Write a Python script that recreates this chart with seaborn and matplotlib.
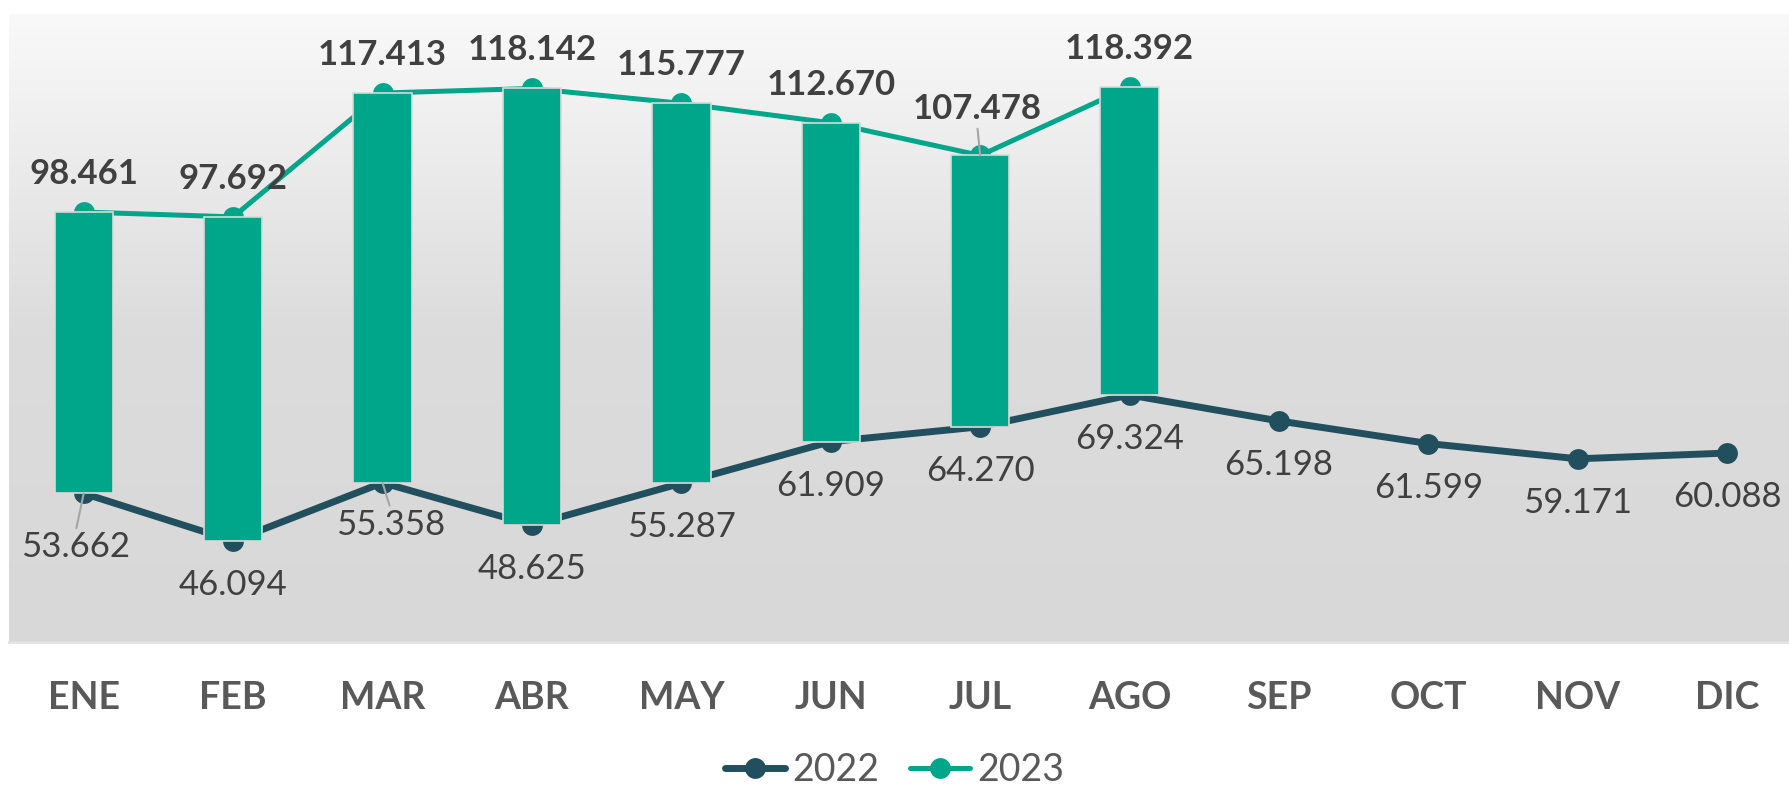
import matplotlib
matplotlib.use("Agg")
import matplotlib.pyplot as plt
from matplotlib.colors import LinearSegmentedColormap
import seaborn as sns
import numpy as np
import pandas as pd

# data (thousands, shown with "." as separator)
months = ['ENE', 'FEB', 'MAR', 'ABR', 'MAY', 'JUN', 'JUL', 'AGO', 'SEP', 'OCT', 'NOV', 'DIC']
v2022 = [53662, 46094, 55358, 48625, 55287, 61909, 64270, 69324, 65198, 61599, 59171, 60088]
v2023 = [98461, 97692, 117413, 118142, 115777, 112670, 107478, 118392]

C22 = '#214f5e'
C23 = '#00a68a'
TXT = '#404040'

sns.set_style("white")
plt.rcParams['font.family'] = ['Lato', 'DejaVu Sans']

fig = plt.figure(figsize=(17.89, 7.9), dpi=100)
ax = fig.add_axes([9 / 1789, 1 - 642 / 790, 1793 / 1789, 628 / 790])

# plot area gradient
grad = np.linspace(0, 1, 256).reshape(-1, 1)
cmap = LinearSegmentedColormap.from_list('bg', ['#d8d8d8', '#dcdcdc', '#f9f9f9'])
ax.imshow(grad, extent=[0, 1, 0, 1], transform=ax.transAxes, aspect='auto',
          cmap=cmap, origin='lower', zorder=0)

df = pd.DataFrame({'x': np.arange(len(months)), 'mes': months, 'v': v2022, 'serie': '2022'})
df23 = pd.DataFrame({'x': np.arange(len(v2023)), 'mes': months[:len(v2023)], 'v': v2023, 'serie': '2023'})
data = pd.concat([df, df23], ignore_index=True)

sns.lineplot(data=data, x='x', y='v', hue='serie', palette={'2022': C22, '2023': C23},
             marker='o', markersize=15, markeredgewidth=0, ax=ax, zorder=2, legend=False)
for line, lw in zip(ax.lines, [5.0, 3.6]):
    line.set_linewidth(lw)

# up-down bars
n = len(v2023)
low = np.array(v2022[:n])
high = np.array(v2023)
ax.bar(np.arange(n), high - low, bottom=low, width=0.39, color=C23,
       edgecolor='#d9d9d9', linewidth=1.2, zorder=3)

def fmt(v):
    return f"{v:,}".replace(",", ".")

# data labels
lead22 = {0: (-8, -54), 2: (8, -42)}
for i, v in enumerate(v2022):
    dx, dy = lead22.get(i, (0, -44))
    arrow = dict(arrowstyle='-', color='#a6a6a6', lw=1.5, shrinkA=0, shrinkB=0,
                 relpos=(0.5, 1.0)) if i in lead22 else None
    ax.annotate(fmt(v), (i, v), xytext=(dx, dy), textcoords='offset pixels',
                ha='center', va='center', fontsize=25, color=TXT, zorder=5,
                arrowprops=arrow)
lead23 = {6: (-3, 46)}
for i, v in enumerate(v2023):
    dx, dy = lead23.get(i, (0, 38))
    arrow = dict(arrowstyle='-', color='#a6a6a6', lw=1.5, shrinkA=0, shrinkB=0,
                 relpos=(0.5, 0.0)) if i in lead23 else None
    ax.annotate(fmt(v), (i, v), xytext=(dx, dy), textcoords='offset pixels',
                ha='center', va='center', fontsize=25, fontweight='bold', color=TXT,
                zorder=5, arrowprops=arrow)

ax.set_xlim(-0.5, len(months) - 0.5)
ax.set_ylim(30000, 130000)
ax.set_xticks(np.arange(len(months)))
ax.set_xticklabels(months, fontsize=27, fontweight='bold', color='#595959')
ax.set_yticks([])
ax.tick_params(axis='x', length=0, pad=28)
ax.set_xlabel('')
ax.set_ylabel('')
for s in ['top', 'left', 'right']:
    ax.spines[s].set_visible(False)
ax.spines['bottom'].set_color('#e3e3e3')
ax.spines['bottom'].set_linewidth(2)
ax.grid(False)

handles = [plt.Line2D([], [], color=C22, lw=5.0, marker='o', markersize=15, markeredgewidth=0),
           plt.Line2D([], [], color=C23, lw=3.6, marker='o', markersize=15, markeredgewidth=0)]
fig.legend(handles, ['2022', '2023'], loc='lower center', bbox_to_anchor=(0.5, -0.04),
           ncol=2, frameon=False, fontsize=27, labelcolor='#595959',
           handlelength=1.6, handletextpad=0.2, columnspacing=0.8)

fig.savefig('out.png', dpi=100)
